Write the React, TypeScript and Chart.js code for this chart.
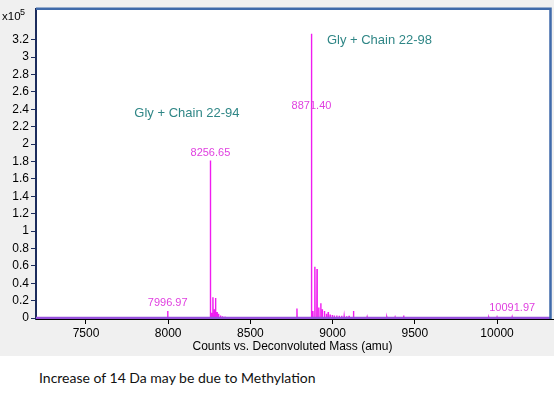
import { useEffect, useRef } from "react";
import { Chart, registerables } from "chart.js";

Chart.register(...registerables);

// deconvoluted spectrum: peak centres (amu) and intensities (x10^5 counts)
const peakMasses = [
  7996.97, 8256.65, 8264, 8272, 8281, 8288, 8297, 8306, 8318, 8330, 8345,
  8783, 8871.4, 8880, 8892, 8905, 8916, 8928, 8937, 8950, 8962, 8973, 8985,
  8998, 9010, 9025, 9040, 9055, 9070, 9085, 9100, 9127, 9150, 9180, 9210,
  9250, 9290, 9330, 9380, 9432, 9600, 9950, 10000, 10040, 10091.97, 10130,
];
const peakHeights = [
  0.08, 1.81, 0.06, 0.24, 0.1, 0.23, 0.07, 0.05, 0.03, 0.02, 0.015,
  0.11, 3.27, 0.08, 0.59, 0.565, 0.12, 0.17, 0.1, 0.08, 0.05, 0.07, 0.04,
  0.035, 0.03, 0.03, 0.025, 0.025, 0.02, 0.02, 0.025, 0.08, 0.012, 0.008, 0.01,
  0.008, 0.01, 0.008, 0.008, 0.03, 0.004, 0.006, 0.008, 0.008, 0.01, 0.006,
];

const massRange = [7196, 10322];
const intensityRange = [-0.0112, 3.551];
const xTicks = [7500, 8000, 8500, 9000, 9500, 10000];
const yTicks = [0, 0.2, 0.4, 0.6, 0.8, 1, 1.2, 1.4, 1.6, 1.8, 2, 2.2, 2.4, 2.6, 2.8, 3, 3.2];

// peak labels (mass, text, height of label in data units)
const labelMasses = [7996.97, 8256.65, 8871.4, 10091.97];
const labelTexts = ["7996.97", "8256.65", "8871.40", "10091.97"];
const labelHeights = [0.174, 1.893, 2.438, 0.112];

// annotations
const noteTexts = ["Gly + Chain 22-94", "Gly + Chain 22-98"];
const noteMasses = [8114, 9285];
const noteHeights = [2.348, 3.19];

const caption = "Increase of 14 Da may be due to Methylation";

const FONT = "'Liberation Sans', Arial, sans-serif";

function spectrumPoints() {
  const pts: { x: number; y: number }[] = [];
  peakMasses.forEach((m, i) => {
    pts.push({ x: m - 1.2, y: 0 });
    pts.push({ x: m, y: peakHeights[i] });
    pts.push({ x: m + 1.2, y: 0 });
  });
  return pts;
}

const decor = {
  id: "decor",
  beforeDraw(chart: any) {
    const { ctx, chartArea: a, width, height } = chart;
    ctx.save();
    ctx.fillStyle = "#f0f0f0";
    ctx.fillRect(0, 0, width, height);
    ctx.fillStyle = "#ffffff";
    ctx.fillRect(a.left, a.top, a.right - a.left, a.bottom - a.top);
    ctx.restore();
  },
  afterDraw(chart: any) {
    const { ctx, chartArea: a, scales } = chart;
    const x = scales.x;
    const y = scales.y;
    ctx.save();
    // frame
    ctx.strokeStyle = "#3f6aaa";
    ctx.lineWidth = 2.5;
    ctx.beginPath();
    ctx.moveTo(a.left, a.top - 0.5);
    ctx.lineTo(a.right + 0.5, a.top - 0.5);
    ctx.lineTo(a.right + 0.5, a.bottom);
    ctx.stroke();
    ctx.strokeStyle = "#000";
    ctx.lineWidth = 1;
    ctx.beginPath();
    ctx.moveTo(a.left, a.bottom + 0.5);
    ctx.lineTo(554, a.bottom + 0.5);
    ctx.stroke();

    // multiplier
    ctx.fillStyle = "#000";
    ctx.textBaseline = "middle";
    ctx.textAlign = "left";
    ctx.font = `11.5px ${FONT}`;
    ctx.fillText("x10", 2, 16.5);
    ctx.font = `9px ${FONT}`;
    ctx.fillText("5", 20, 13);

    // axis title
    ctx.font = `12px ${FONT}`;
    ctx.textAlign = "center";
    ctx.fillText("Counts vs. Deconvoluted Mass (amu)", 292.5, 347);

    // peak labels
    ctx.fillStyle = "#e040e0";
    ctx.font = `11px ${FONT}`;
    labelMasses.forEach((m, i) => {
      ctx.fillText(labelTexts[i], x.getPixelForValue(m), y.getPixelForValue(labelHeights[i]));
    });

    // annotations
    ctx.fillStyle = "#2f8686";
    ctx.font = `13px ${FONT}`;
    noteMasses.forEach((m, i) => {
      ctx.fillText(noteTexts[i], x.getPixelForValue(m), y.getPixelForValue(noteHeights[i]));
    });
    ctx.restore();
  },
};

export default function App() {
  const canvasRef = useRef<HTMLCanvasElement>(null);
  const chartRef = useRef<Chart | null>(null);

  useEffect(() => {
    document.body.style.margin = "0";
    if (!canvasRef.current) return;
    if (chartRef.current) chartRef.current.destroy();

    chartRef.current = new Chart(canvasRef.current, {
      type: "line",
      data: {
        datasets: [
          {
            label: "baseline",
            data: massRange.map((m) => ({ x: m, y: 0 })),
            borderColor: "#9650dc",
            borderWidth: 2.5,
            pointRadius: 0,
          },
          {
            label: "spectrum",
            data: spectrumPoints(),
            borderColor: "#f01cf0",
            borderWidth: 1.4,
            pointRadius: 0,
            tension: 0,
          },
        ],
      },
      options: {
        animation: false,
        responsive: false,
        devicePixelRatio: 1,
        layout: { padding: { top: 2, right: 4, left: 0, bottom: 0 } },
        plugins: { legend: { display: false }, tooltip: { enabled: false } },
        scales: {
          x: {
            type: "linear",
            min: massRange[0],
            max: massRange[1],
            afterFit: (s: any) => {
              s.height = 37;
            },
            afterBuildTicks: (s: any) => {
              s.ticks = xTicks.map((v) => ({ value: v }));
            },
            border: { color: "#000", width: 1 },
            grid: { drawOnChartArea: false, tickLength: 5, color: "#000" },
            ticks: {
              color: "#000",
              padding: 2,
              maxRotation: 0,
              font: { family: FONT, size: 12 },
              callback: (v: any) => String(v),
            },
          },
          y: {
            type: "linear",
            min: intensityRange[0],
            max: intensityRange[1],
            afterFit: (s: any) => {
              s.width = 36;
            },
            afterBuildTicks: (s: any) => {
              s.ticks = yTicks.map((v) => ({ value: v }));
            },
            border: { color: "#1c2c5c", width: 2 },
            grid: { drawOnChartArea: false, tickLength: 5, color: "#1c2c5c" },
            ticks: {
              color: "#000",
              padding: 2,
              font: { family: FONT, size: 12 },
              callback: (v: any) => String(Number(Number(v).toFixed(1))),
            },
          },
        },
      },
      plugins: [decor],
    } as any);

    return () => {
      chartRef.current?.destroy();
      chartRef.current = null;
    };
  }, []);

  return (
    <div style={{ position: "relative", width: 554, height: 404, background: "#fff" }}>
      <canvas ref={canvasRef} width={554} height={356} style={{ display: "block" }} />
      <div
        style={{
          position: "absolute",
          left: 39,
          top: 369,
          font: "14px Lato, 'Open Sans', sans-serif",
          color: "#111",
          whiteSpace: "pre",
        }}
      >
        {caption}
      </div>
    </div>
  );
}
